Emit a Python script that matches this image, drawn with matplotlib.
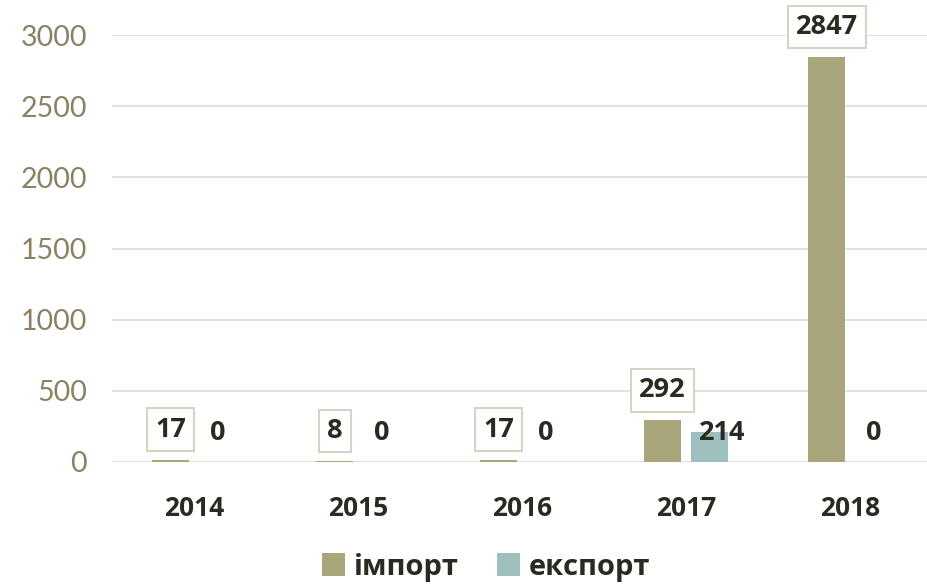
import matplotlib.pyplot as plt
import numpy as np

years = ["2014", "2015", "2016", "2017", "2018"]
import_vals = [17, 8, 17, 292, 2847]
export_vals = [0, 0, 0, 214, 0]
series_names = ["імпорт", "експорт"]
y_ticks = [0, 500, 1000, 1500, 2000, 2500, 3000]

IMPORT_COLOR = "#A9A67B"
EXPORT_COLOR = "#9DC0BF"
GRID_COLOR = "#E5E2D9"
TEXT_DARK = "#2B2A22"
TICK_COLOR = "#8A8163"
BOLD_FONT = ["Open Sans", "DejaVu Sans"]

fig = plt.figure(figsize=(9.28, 5.87), dpi=100)
ax = fig.add_axes([112 / 928, 125 / 587, 820 / 928, 427 / 587])

x = np.arange(len(years))
w = 0.225
off = 0.142
ax.bar(x - off, import_vals, w, color=IMPORT_COLOR, zorder=3, label=series_names[0])
ax.bar(x + off, export_vals, w, color=EXPORT_COLOR, zorder=3, label=series_names[1])

ax.set_xlim(-0.5, 4.5)
ax.set_ylim(0, 3000)
ax.set_yticks(y_ticks)
ax.grid(axis="y", color=GRID_COLOR, linewidth=1.5, zorder=0)
ax.set_axisbelow(True)
for s in ax.spines.values():
    s.set_visible(False)
ax.tick_params(axis="both", length=0)
ax.tick_params(axis="y", pad=18, labelsize=20.5, labelcolor=TICK_COLOR)
for t in ax.get_yticklabels():
    t.set_family(["Lato", "DejaVu Sans"])
ax.set_xticks(x)
ax.set_xticklabels(years, fontsize=19, fontweight="bold", color=TEXT_DARK, family=BOLD_FONT)
ax.tick_params(axis="x", pad=24)

# import labels in boxes, above the bar
for xi, v in zip(x, import_vals):
    ax.annotate(str(v), (xi - off, v), xytext=(0, 30), textcoords="offset pixels",
                ha="center", va="center", fontsize=19.5, fontweight="bold",
                color=TEXT_DARK, family=BOLD_FONT, zorder=5, annotation_clip=False,
                bbox=dict(boxstyle="square,pad=0.3", fc="white", ec="#D6D3C6", lw=1.5))

# export labels sit just above the baseline
for xi, v in zip(x, export_vals):
    dx = 13 if v > 0 else 0
    ax.annotate(str(v), (xi + off, 0), xytext=(dx, 29), textcoords="offset pixels",
                ha="center", va="center", fontsize=19.5, fontweight="bold",
                color=TEXT_DARK, family=BOLD_FONT, zorder=5)

fig.legend(loc="center", bbox_to_anchor=(486 / 928, 1 - 567 / 587), ncol=2, frameon=False,
           prop={"family": BOLD_FONT, "weight": "bold", "size": 21},
           handlelength=0.8, handleheight=0.8, handletextpad=0.3, columnspacing=1.3,
           labelcolor=TEXT_DARK)

fig.savefig("out.png", dpi=100)
